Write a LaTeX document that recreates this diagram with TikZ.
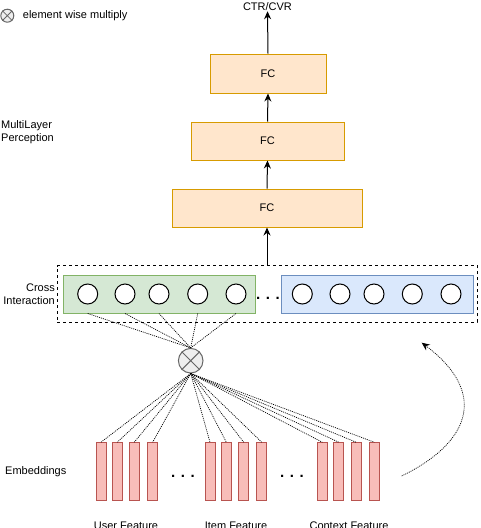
\documentclass[tikz,border=0pt]{standalone}
\usepackage{fontspec}
\setmainfont{Liberation Sans}
\usetikzlibrary{arrows.meta}
\definecolor{fcfill}{HTML}{FFE6CC}
\definecolor{fcdraw}{HTML}{D79B00}
\definecolor{gfill}{HTML}{D5E8D4}
\definecolor{gdraw}{HTML}{82B366}
\definecolor{bfill}{HTML}{DAE8FC}
\definecolor{bdraw}{HTML}{6C8EBF}
\definecolor{rfill}{HTML}{F8BDB9}
\definecolor{rdraw}{HTML}{B85450}
\definecolor{ogray}{HTML}{666666}
\definecolor{ofill}{HTML}{EEEEEE}
\tikzset{
  fcbox/.style={draw=fcdraw, fill=fcfill, line width=1pt, inner sep=0pt},
  gbox/.style={draw=gdraw, fill=gfill, line width=1pt, inner sep=0pt, minimum width=192pt, minimum height=38pt},
  bbox/.style={draw=bdraw, fill=bfill, line width=1pt, inner sep=0pt, minimum width=192pt, minimum height=38pt},
  unit/.style={circle, draw=black, fill=white, line width=1pt, minimum size=20pt, inner sep=0pt},
  bar/.style={draw=rdraw, fill=rfill, line width=1pt, minimum width=10pt, minimum height=58pt, inner sep=0pt},
  otnode/.style={circle, draw=ogray, fill=ofill, line width=1pt, inner sep=0pt},
  arr/.style={-{Stealth[length=8pt,width=7pt]}, line width=1pt},
  conn/.style={line width=0.7pt, dash pattern=on 1pt off 1pt},
  lbl/.style={inner sep=0pt},
  dotsl/.style={inner sep=0pt, font=\fontsize{15}{15}\selectfont\bfseries}
}
\begin{document}
\begin{tikzpicture}[x=1pt, y=-1pt, font=\fontsize{11}{13}\selectfont]
\useasboundingbox (0,0) rectangle (480,528);

% legend
\node[otnode, minimum size=13pt] (lot) at (7.3,15.7) {};
\draw[ogray, line width=0.8pt] (lot.north west) -- (lot.south east) (lot.north east) -- (lot.south west);
\node[lbl, anchor=west] (leg) at (22.7,16) {element wise multiply};

% MLP
\node[lbl] (ctr) at (267.5,7) {CTR/CVR};
\node[fcbox, minimum width=116pt, minimum height=39pt] (fc1) at (268,73.5) {FC};
\node[fcbox, minimum width=153pt, minimum height=38pt] (fc2) at (267.5,141) {FC};
\node[fcbox, minimum width=190pt, minimum height=38pt] (fc3) at (267,208) {FC};
\node[lbl, anchor=west, align=left] (mlp) at (1,132) {MultiLayer\\Perception};

% cross interaction
\node[draw=black, line width=1pt, dash pattern=on 3pt off 3pt, minimum width=420pt, minimum height=56.5pt, inner sep=0pt] (ci) at (267,294) {};
\node[gbox] (gb) at (159.3,294) {};
\node[bbox] (bb) at (377,294) {};
\foreach \i/\x in {1/87.7,2/125,3/159,4/197.7,5/236}{
  \node[unit] (g\i) at (\x,294) {};
}
\foreach \i/\x in {1/302.3,2/340,3/374,4/412.3,5/451}{
  \node[unit] (b\i) at (\x,294) {};
}
\node[dotsl] (cdots) at (268,298) {. . .};
\node[lbl, anchor=east, align=right] (cil) at (55,294) {Cross\\Interaction};

% arrows
\draw[arr] (fc1.north) -- (ctr.south);
\draw[arr] (fc2.north) -- (fc1.south);
\draw[arr] (fc3.north) -- (fc2.south);
\draw[arr] (ci.north) -- (fc3.south);

% otimes
\node[otnode, minimum size=24.6pt] (ot) at (190.7,360.7) {};
\draw[ogray, line width=1pt] (ot.north west) -- (ot.south east) (ot.north east) -- (ot.south west);

\foreach \i in {1,...,5}{
  \draw[conn] (g\i |- gb.south) -- (ot.north);
}

% embeddings
\foreach \i/\x in {1/101,2/117.3,3/134.3,4/152.7,5/210,6/226.3,7/243.7,8/261.7,9/322.3,10/338.7,11/356,12/374.3}{
  \node[bar] (e\i) at (\x,471.7) {};
  \draw[conn] (ot.south) -- (e\i.north);
}
\node[dotsl] (edots1) at (183,476) {. . .};
\node[dotsl] (edots2) at (292,476) {. . .};
\node[lbl, anchor=west] (embl) at (5,472) {Embeddings};
\node[lbl, anchor=base] (uf) at (126,529.5) {User Feature};
\node[lbl, anchor=base] (itf) at (236,529.5) {Item Feature};
\node[lbl, anchor=base] (cf) at (349,529.5) {Context Feature};

% curved arrow
\coordinate (cs) at (401.7,476);
\coordinate (ce) at (421.7,342.7);
\draw[conn, -{Stealth[length=8pt,width=7pt]}] (cs) .. controls (475,440) and (485,390) .. (ce);
\end{tikzpicture}
\end{document}
